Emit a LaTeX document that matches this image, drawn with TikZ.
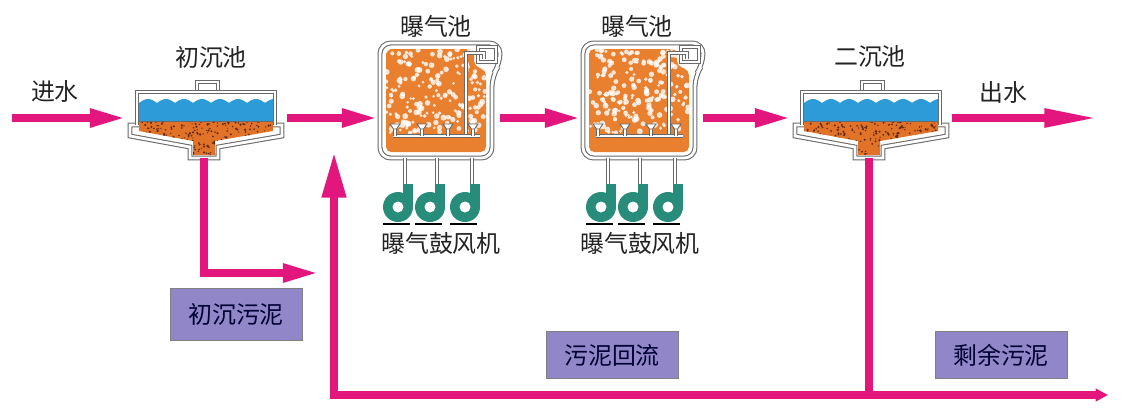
\documentclass[tikz,border=0pt]{standalone}
\usepackage{fontspec}
\newfontfamily\cjk{Noto Sans CJK SC}
\usetikzlibrary{arrows.meta}

\definecolor{flow}{RGB}{226,22,125}
\definecolor{water}{RGB}{45,155,215}
\definecolor{sludge}{RGB}{225,115,40}
\definecolor{mud}{RGB}{100,40,18}
\definecolor{tankfill}{RGB}{232,128,48}
\definecolor{fan}{RGB}{40,140,122}
\definecolor{tagfill}{RGB}{145,135,200}
\definecolor{wallgray}{RGB}{105,105,105}
\definecolor{ink}{RGB}{35,35,35}

\tikzset{
  wall/.style={draw=wallgray, double=white, line width=0.6pt, double distance=1.6pt},
  pipe/.style={draw=wallgray, double=white, line width=0.5pt, double distance=1.3pt},
  flowline/.style={flow, line width=4pt, -{Triangle[length=20pt,width=10pt]}},
  tanklabel/.style={text=ink, font=\cjk\fontsize{13.6}{16}\selectfont},
  sludgetag/.style={tanklabel, text=black!80!blue, fill=tagfill, draw=gray,
    minimum width=2.64cm, minimum height=0.94cm},
  % settling tank, drawn at the place of the primary one
  settler/.pic={
    \filldraw[wall, fill=white] (197,82) rectangle (218,92);
    \filldraw[wall, fill=white] (130,125) -- (282,125) -- (282,136) -- (218,147)
      -- (218,158) -- (190,158) -- (190,147) -- (130,136) -- cycle;
    \filldraw[wall, fill=white] (137,125) |- (275,92) -- (275,125);
    \fill[water] (139,121) -- plot[domain=139:273, samples=90]
      (\x,{103-4*abs(sin(10*(\x-139)))}) -- (273,121) -- cycle;
    \begin{scope}
      \clip (139,121) -- (273,121) -- (273,131) -- (215,141) -- (215,155)
        -- (193,155) -- (193,141) -- (139,131) -- cycle;
      \fill[sludge] (130,115) rectangle (282,160);
      \foreach \k in {1,...,260}
        \fill[mud] ({139+134*rnd},{121+34*rnd}) circle ({0.6+0.7*rnd});
    \end{scope}
    \draw[wallgray, line width=0.5pt] (139,121) -- (273,121);
    \coordinate (-in) at (125,118);
    \coordinate (-right) at (287,118);
    \coordinate (-out) at (204,158);
  },
  % aeration basin with diffusers and outlet trough
  aerotank/.pic={
    \filldraw[wall, fill=white, rounded corners=6] (380,43) -| (500,64) -- (492,76)
      |- (380,158) -- cycle;
    \begin{scope}
      \clip[rounded corners=3] (386,49) -- (474,49) -- (474,66) -- (486,70)
        -- (486,152) -- (386,152) -- cycle;
      \fill[tankfill] (380,43) rectangle (500,158);
      \foreach \k in {1,...,190}
        \fill[white, opacity=0.8] ({386+100*rnd},{49+84*rnd}) circle ({1.4+1.6*rnd});
    \end{scope}
    \draw[wall] (478,47) rectangle (496,62);
    \draw[pipe] (466,136) -- (466,53) -- (484,53) -- (484,59);
    \draw[pipe] (393,136) -- (480,136);
    \foreach \d in {395,422,448,473} {
      \draw[pipe] (\d,136) -- (\d,129);
      \filldraw[fill=white, draw=wallgray, line width=0.5pt]
        (\d-5,124) -- (\d+5,124) -- (\d+1.5,129) -- (\d-1.5,129) -- cycle;
    }
    \coordinate (-in) at (377,118);
    \coordinate (-out) at (500,118);
  },
  % blower, origin at the foot of its pipe
  blower/.pic={
    \draw[pipe] (0,0) -- (0,27);
    \fill[fan] (-2,26) rectangle (8,49);
    \fill[fan] (-7,49) circle (15);
    \fill[white] (-7,49) circle (5.5);
    \draw[black, line width=1.4pt] (-22,66) -- (5,66);
  }
}

\begin{document}
\begin{tikzpicture}[x=0.02cm, y=-0.02cm]
  \useasboundingbox (0,0) rectangle (1129,410);
  \pgfmathsetseed{42}

  \pic (pc) at (0,0) {settler};
  \pic (sc) at (665,0) {settler};
  \pic (at1) at (0,0) {aerotank};
  \pic (at2) at (203,0) {aerotank};
  \foreach \b in {405,437,472,608,640,675}
    \pic at (\b,158) {blower};

  % texts
  \node[tanklabel] (feedtxt) at (55,91) {进水};
  \node[tanklabel] (pctxt) at (211,57) {初沉池};
  \node[tanklabel] (at1txt) at (436,26) {曝气池};
  \node[tanklabel] (at2txt) at (637,26) {曝气池};
  \node[tanklabel] (fan1txt) at (441,243) {曝气鼓风机};
  \node[tanklabel] (fan2txt) at (640,243) {曝气鼓风机};
  \node[tanklabel] (sctxt) at (870,56) {二沉池};
  \node[tanklabel] (efftxt) at (1003,92) {出水};

  \node[sludgetag, minimum height=1.04cm] (ptag) at (236,314) {初沉污泥};
  \node[sludgetag] (rtag) at (612,355) {污泥回流};
  \node[sludgetag] (wtag) at (1001,355) {剩余污泥};

  % main line
  \coordinate (feed) at (12,118);
  \coordinate (effluent) at (1097,118);
  \draw[flowline] (feed) -- (pc-in);
  \draw[flowline] (pc-right) -- (at1-in);
  \draw[flowline] (at1-out) -- (at2-in);
  \draw[flowline] (at2-out) -- (sc-in);
  \draw[flowline, -{Triangle[length=30pt,width=10pt]}] (sc-right) -- (effluent);

  % sludge lines
  \coordinate (pend) at (318,273);
  \coordinate (split) at (sc-out |- 0,395);
  \coordinate (ret) at (334,152);
  \coordinate (waste) at (1108,395);
  \draw[flowline] (pc-out) |- (pend);
  \draw[flowline, line width=4.6pt, -{Triangle[length=26pt,width=13pt]}] (split) -| (ret);
  \draw[flowline, line width=4.6pt, -{Triangle[length=7pt,width=7pt]}] (sc-out) |- (waste);
\end{tikzpicture}
\end{document}
